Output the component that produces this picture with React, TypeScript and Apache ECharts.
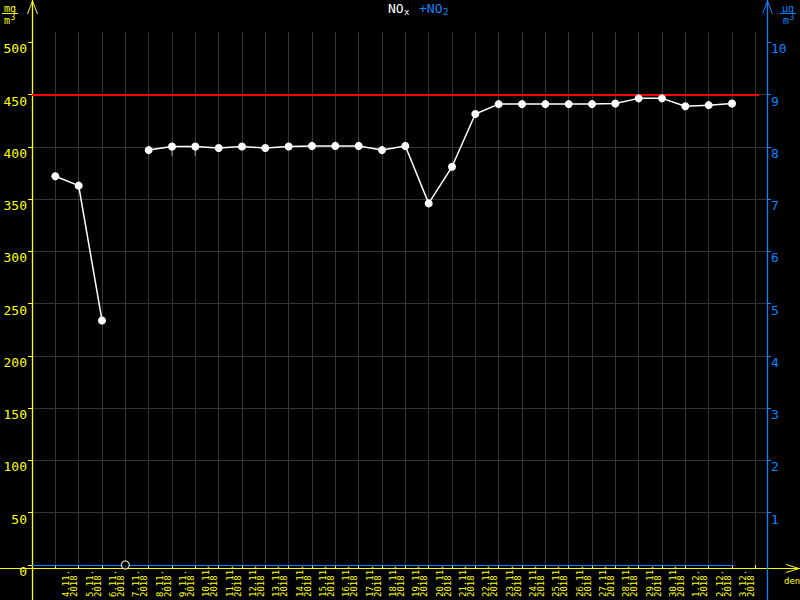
import React, { useEffect, useRef } from 'react';
import * as echarts from 'echarts';

// ---- data ----
const dates = ['4.11.', '5.11.', '6.11.', '7.11.', '8.11.', '9.11.', '10.11.', '11.11.', '12.11.', '13.11.',
  '14.11.', '15.11.', '16.11.', '17.11.', '18.11.', '19.11.', '20.11.', '21.11.', '22.11.', '23.11.',
  '24.11.', '25.11.', '26.11.', '27.11.', '28.11.', '29.11.', '30.11.', '1.12.', '2.12.', '3.12.'];
const year = '2018';
const noxValues: (number | null)[] = [372, 363, 234, null, 397, 400.5, 400.5, 399, 400.5, 399,
  400.5, 401, 401, 401, 397, 401, 346, 381, 431.5, 441,
  441, 441, 441, 441, 441.5, 446.5, 446.5, 439, 440, 441.5];
const flaggedDates = ['9.11.', '10.11.'];
const limitNOx = 450;
const leftTicks = [0, 50, 100, 150, 200, 250, 300, 350, 400, 450, 500];
const rightTicks = [1, 2, 3, 4, 5, 6, 7, 8, 9, 10];

// ---- style ----
const W = 800, H = 600;
const GL = 32, GR = 33, GT = 32, GB = 32;
const YELLOW = '#ffff00';
const BLUE = '#0a84ff';
const GRAY = '#363636';
const FONT = 'DejaVu Sans Mono';

export default function App() {
  const ref = useRef<HTMLDivElement>(null);
  useEffect(() => {
    if (!ref.current) return;
    const chart = echarts.init(ref.current, null, { renderer: 'svg' });
    const lineData = noxValues.map((v, i) => [i + 1, v]);
    const missing = noxValues
      .map((v, i) => (v == null ? [i + 1, 0] : null))
      .filter((d) => d != null);
    const flagged = flaggedDates.map((d) => {
      const i = dates.indexOf(d);
      return [i + 1, noxValues[i]];
    });
    const xRight = W - GR;
    const yBase = H - GB;
    const option: any = {
      backgroundColor: '#000000',
      animation: false,
      grid: { left: GL, right: GR, top: GT, bottom: GB },
      xAxis: {
        type: 'value', min: 0, max: 31.5, interval: 1,
        axisLine: { show: false },
        axisTick: { show: true, length: 4, lineStyle: { color: YELLOW, width: 1 } },
        splitLine: { show: true, showMinLine: false, showMaxLine: false, lineStyle: { color: GRAY, width: 1 } },
        axisLabel: {
          rotate: 90, align: 'left', verticalAlign: 'top', margin: 32,
          padding: [7, 0, 0, 0], lineHeight: 8, fontSize: 9, fontFamily: FONT, color: YELLOW,
          formatter: (v: number) => {
            const d = dates[Math.round(v) - 1];
            return Number.isInteger(v) && d ? d + '\n' + year : '';
          },
        },
      },
      yAxis: [
        {
          type: 'value', min: 0, max: 510, interval: 50, position: 'left',
          axisLine: { show: false },
          axisTick: { show: true, length: 4, customValues: leftTicks, lineStyle: { color: YELLOW } },
          axisLabel: { customValues: leftTicks, color: YELLOW, fontFamily: FONT, fontSize: 13, margin: 5, verticalAlign: 'top' },
          splitLine: { show: true, showMinLine: false, showMaxLine: false, lineStyle: { color: GRAY, width: 1 } },
        },
        {
          type: 'value', min: 0, max: 10.2, interval: 1, position: 'right',
          axisLine: { show: false },
          axisTick: { show: true, length: 4, customValues: rightTicks, lineStyle: { color: BLUE } },
          axisLabel: { customValues: rightTicks, color: BLUE, fontFamily: FONT, fontSize: 13, margin: 4, verticalAlign: 'top' },
          splitLine: { show: false },
        },
      ],
      series: [
        {
          name: 'NOx', type: 'line', data: lineData, connectNulls: false, z: 5,
          symbol: 'circle', symbolSize: 8,
          itemStyle: { color: '#ffffff' },
          lineStyle: { color: '#ffffff', width: 1.5 },
          markLine: {
            silent: true, symbol: 'none', label: { show: false },
            lineStyle: { color: '#ff0000', width: 2, type: 'solid' },
            data: [[{ coord: [0, limitNOx] }, { coord: [31.16, limitNOx] }]],
          },
        },
        {
          name: 'flag', type: 'scatter', data: flagged, z: 4,
          symbol: 'path://M0 0L1 0L1.5 2L2 0L3 0L2 3L2 6L1 6L1 3Z', symbolSize: [4, 9], symbolOffset: [0, 5],
          itemStyle: { color: '#9a9a9a' },
        },
        {
          name: 'missing', type: 'scatter', data: missing, z: 6,
          symbol: 'circle', symbolSize: 8,
          itemStyle: { color: '#000000', borderColor: '#ffffff', borderWidth: 1.3 },
          markLine: {
            silent: true, symbol: 'none', label: { show: false },
            lineStyle: { color: BLUE, width: 1.2, type: 'solid' },
            data: [[{ coord: [0, 0] }, { coord: [30.07, 0] }]],
          },
        },
      ],
      graphic: [
        // axes lines spanning whole canvas
        { type: 'line', z: 1, shape: { x1: 0, y1: yBase + 0.5, x2: W, y2: yBase + 0.5 }, style: { stroke: YELLOW, lineWidth: 1 } },
        { type: 'line', z: 1, shape: { x1: GL + 0.5, y1: 0, x2: GL + 0.5, y2: H }, style: { stroke: YELLOW, lineWidth: 1.3 } },
        { type: 'line', z: 1, shape: { x1: xRight + 0.5, y1: 0, x2: xRight + 0.5, y2: H }, style: { stroke: BLUE, lineWidth: 1.3 } },
        // arrows
        { type: 'polyline', z: 1, shape: { points: [[GL - 4.5, 14], [GL + 0.5, 1], [GL + 5.5, 14]] }, style: { stroke: YELLOW, lineWidth: 1, fill: 'none' } },
        { type: 'polyline', z: 1, shape: { points: [[xRight - 4.5, 14], [xRight + 0.5, 1], [xRight + 5.5, 14]] }, style: { stroke: BLUE, lineWidth: 1, fill: 'none' } },
        { type: 'polyline', z: 1, shape: { points: [[W - 14, yBase - 3.5], [W - 1, yBase + 0.5], [W - 14, yBase + 4.5]] }, style: { stroke: YELLOW, lineWidth: 1, fill: 'none' } },
        { type: 'text', z: 1, x: 784, y: 576, style: { text: 'den', fontSize: 9, fontFamily: FONT, fill: YELLOW, align: 'left', verticalAlign: 'top' } },
        // units
        { type: 'text', z: 1, x: 10, y: 3, style: { text: 'mg', fontSize: 10, fontFamily: FONT, fill: YELLOW, align: 'center', verticalAlign: 'top' } },
        { type: 'line', z: 1, shape: { x1: 2, y1: 13.5, x2: 18, y2: 13.5 }, style: { stroke: YELLOW, lineWidth: 1 } },
        { type: 'text', z: 1, x: 4, y: 15, style: { text: 'm', fontSize: 10, fontFamily: FONT, fill: YELLOW, align: 'left', verticalAlign: 'top' } },
        { type: 'text', z: 1, x: 10.5, y: 13.5, style: { text: '3', fontSize: 8, fontFamily: FONT, fill: YELLOW, align: 'left', verticalAlign: 'top' } },
        { type: 'text', z: 1, x: 788, y: 3, style: { text: 'µg', fontSize: 10, fontFamily: FONT, fill: BLUE, align: 'center', verticalAlign: 'top' } },
        { type: 'line', z: 1, shape: { x1: 780, y1: 13.5, x2: 796, y2: 13.5 }, style: { stroke: BLUE, lineWidth: 1 } },
        { type: 'text', z: 1, x: 783, y: 15, style: { text: 'm', fontSize: 10, fontFamily: FONT, fill: BLUE, align: 'left', verticalAlign: 'top' } },
        { type: 'text', z: 1, x: 789.5, y: 13.5, style: { text: '3', fontSize: 8, fontFamily: FONT, fill: BLUE, align: 'left', verticalAlign: 'top' } },
        // title
        { type: 'text', z: 1, x: 388, y: 2, style: { text: 'NO', fontSize: 13, fontFamily: FONT, fill: '#ffffff', align: 'left', verticalAlign: 'top' } },
        { type: 'text', z: 1, x: 404, y: 7, style: { text: 'x', fontSize: 9, fontFamily: FONT, fill: '#ffffff', align: 'left', verticalAlign: 'top' } },
        { type: 'text', z: 1, x: 419, y: 2, style: { text: '+NO', fontSize: 13, fontFamily: FONT, fill: BLUE, align: 'left', verticalAlign: 'top' } },
        { type: 'text', z: 1, x: 443, y: 7, style: { text: '2', fontSize: 9, fontFamily: FONT, fill: BLUE, align: 'left', verticalAlign: 'top' } },
      ],
    };
    chart.setOption(option);
    return () => chart.dispose();
  }, []);
  return <div ref={ref} style={{ width: W, height: H, position: 'absolute', left: 0, top: 0 }} />;
}
